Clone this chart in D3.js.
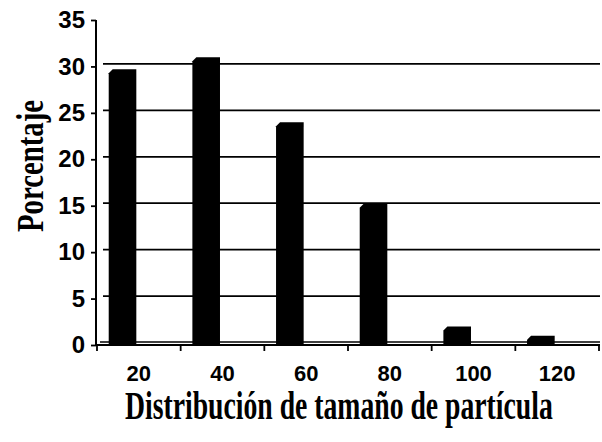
<!DOCTYPE html>
<html>
<head>
<meta charset="utf-8">
<script src="https://cdn.jsdelivr.net/npm/d3@7"></script>
<style>
  html, body { margin: 0; padding: 0; background: #fff; }
  svg { display: block; }
</style>
</head>
<body>
<script>
const categories = ["20", "40", "60", "80", "100", "120"];
const values = [29.7, 31, 24, 15.2, 2, 1];
const yTicks = [0, 5, 10, 15, 20, 25, 30, 35];
const xTitle = "Distribución de tamaño de partícula";
const yTitle = "Porcentaje";

const W = 602, H = 442;
const svg = d3.select("body").append("svg").attr("width", W).attr("height", H);

const x = d3.scaleBand().domain(categories).range([97, 599]).paddingInner(0).paddingOuter(0);
const y = d3.scaleLinear().domain([0, 35]).range([345, 20]);

// gridlines (back wall, slightly offset as in 3D chart)
const gridG = svg.append("g");
gridG.selectAll("line").data(yTicks.filter(d => d > 0 && d < 35)).join("line")
  .attr("x1", 103).attr("x2", 600)
  .attr("y1", d => y(d) - 2.5).attr("y2", d => y(d) - 2.5)
  .attr("stroke", "#000").attr("stroke-width", 1.8);

// floor line
svg.append("line").attr("x1", 100).attr("x2", 600)
  .attr("y1", y(0) - 3).attr("y2", y(0) - 3)
  .attr("stroke", "#000").attr("stroke-width", 1.6);

// bars with bevelled top-left corner
const bw = x.bandwidth();
const barW = bw * 0.33, barOff = bw * 0.14;
svg.append("g").selectAll("path").data(values).join("path")
  .attr("d", (v, i) => {
    const x0 = x(categories[i]) + barOff, x1 = x0 + barW;
    const top = y(v), bot = y(0) - 1;
    const b = Math.min(4, (bot - top) * 0.5);
    return `M${x0},${bot}L${x0},${top + b}L${x0 + b},${top}L${x1},${top}L${x1},${bot}Z`;
  })
  .attr("fill", "#000");

// y axis
const yAxis = d3.axisLeft(y).tickValues(yTicks).tickSize(5).tickPadding(6);
const gy = svg.append("g").attr("transform", "translate(96,0)").call(yAxis);
gy.select(".domain").attr("stroke", "#000").attr("stroke-width", 2).attr("d", `M0,${y(35)}V${y(0) + 1}`);
gy.selectAll(".tick line").attr("stroke", "#000").attr("stroke-width", 1.8);
gy.selectAll(".tick text")
  .attr("font-family", "'Liberation Sans', Arial, sans-serif")
  .attr("font-weight", "bold").attr("font-size", 24).attr("fill", "#000");

// x axis
const xAxis = d3.axisBottom(x).tickSize(0).tickPadding(20);
const gx = svg.append("g").attr("transform", `translate(0,${y(0)})`).call(xAxis);
gx.select(".domain").attr("stroke", "#000").attr("stroke-width", 2).attr("d", "M96,0H600");
gx.selectAll(".tick text")
  .attr("font-family", "'Liberation Sans', Arial, sans-serif")
  .attr("font-weight", "bold").attr("font-size", 22).attr("fill", "#000");
// tick marks at band boundaries
const bounds = categories.map(c => x(c)).concat([x.range()[1]]);
gx.append("g").selectAll("line").data(bounds).join("line")
  .attr("x1", d => d).attr("x2", d => d).attr("y1", 0).attr("y2", 6)
  .attr("stroke", "#000").attr("stroke-width", 1.8);

// titles (condensed serif, scaled horizontally to the reference width)
function condensedText(str, size, targetLen, tx, ty, rot) {
  const t = svg.append("text")
    .attr("font-family", "'Liberation Serif', 'Times New Roman', serif")
    .attr("font-weight", "bold").attr("font-size", size).attr("fill", "#000")
    .text(str);
  const nat = t.node().getComputedTextLength();
  const s = targetLen / nat;
  t.attr("transform", `translate(${tx},${ty}) rotate(${rot}) scale(${s},1)`);
  return t;
}
condensedText(xTitle, 39, 428, 125, 419, 0);
condensedText(yTitle, 38, 132, 43, 232, -90);
</script>
</body>
</html>
